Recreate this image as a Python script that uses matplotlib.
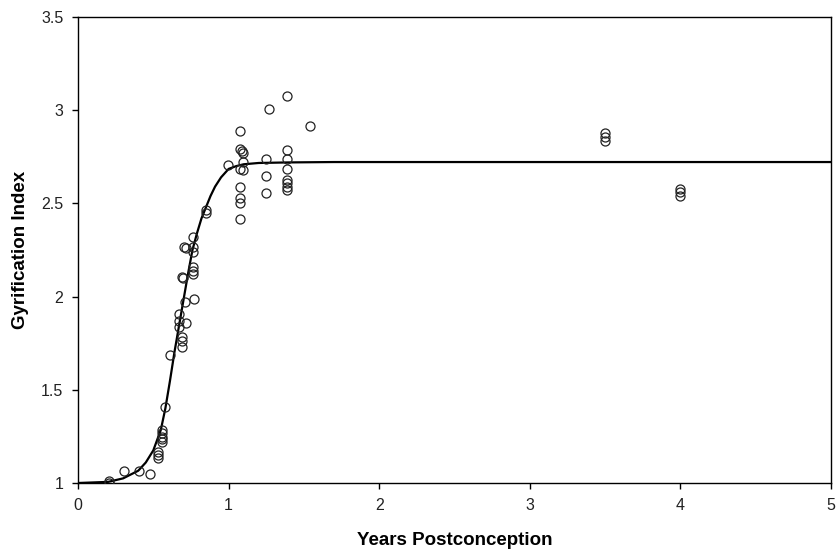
import matplotlib
matplotlib.use("Agg")
import matplotlib.pyplot as plt

plt.rcParams['font.family'] = ['Liberation Sans', 'DejaVu Sans']

age = [0.208, 0.208, 0.305, 0.403, 0.478,
       0.533, 0.533, 0.533,
       0.56, 0.56, 0.56, 0.56, 0.56,
       0.578, 0.611,
       0.671, 0.671, 0.671,
       0.693, 0.693, 0.693,
       0.715, 0.71, 0.77,
       0.69, 0.695,
       0.766, 0.766, 0.766,
       0.705, 0.715,
       0.766, 0.766, 0.766,
       0.849, 0.849,
       0.998,
       1.076, 1.076, 1.076, 1.076, 1.076, 1.076, 1.076,
       1.087, 1.098, 1.098, 1.093,
       1.248, 1.248, 1.248,
       1.268,
       1.386, 1.386, 1.386, 1.386, 1.386, 1.386, 1.386, 1.386,
       1.541,
       3.5, 3.5, 3.5,
       4.0, 4.0, 4.0]
gi = [1.0, 1.01, 1.066, 1.066, 1.047,
      1.168, 1.150, 1.132,
      1.284, 1.266, 1.248, 1.234, 1.218,
      1.41, 1.685,
      1.835, 1.87, 1.907,
      1.73, 1.76, 1.785,
      1.857, 1.97, 1.985,
      2.107, 2.098,
      2.16, 2.14, 2.12,
      2.268, 2.262,
      2.32, 2.268, 2.24,
      2.465, 2.447,
      2.706,
      2.888, 2.79, 2.59, 2.528, 2.5, 2.414, 2.683,
      2.78, 2.768, 2.68, 2.724,
      2.738, 2.647, 2.557,
      3.006,
      3.078, 2.786, 2.738, 2.685, 2.625, 2.608, 2.59, 2.572,
      2.918,
      2.876, 2.855, 2.833,
      2.58, 2.56, 2.54]

# fitted sigmoid
fit_x = [0, 0.2, 0.3, 0.4, 0.45, 0.5, 0.55, 0.58, 0.61, 0.64, 0.67, 0.70,
         0.73, 0.76, 0.79, 0.82, 0.85, 0.88, 0.91, 0.95, 1.0, 1.05, 1.1,
         1.2, 1.4, 1.7, 5.0]
fit_y = [1.0, 1.006, 1.025, 1.066, 1.11, 1.175, 1.285, 1.40, 1.545, 1.70,
         1.84, 1.98, 2.12, 2.25, 2.34, 2.42, 2.48, 2.54, 2.59, 2.64, 2.685,
         2.70, 2.71, 2.717, 2.72, 2.722, 2.722]

xticks = [0, 1, 2, 3, 4, 5]
yticks = [1, 1.5, 2, 2.5, 3, 3.5]
ytick_labels = ["1", "1.5", "2", "2.5", "3", "3.5"]

fig = plt.figure(figsize=(8.37, 5.51), dpi=100)
ax = fig.add_axes([0.0932, 0.1234, 0.8996, 0.8457])

ax.plot(fit_x, fit_y, color="black", lw=1.6, zorder=2)
ax.plot(age, gi, linestyle="none", marker="o", markersize=6.5,
        markerfacecolor="none", markeredgecolor="#222222",
        markeredgewidth=0.9, zorder=3)

ax.set_xlim(0, 5)
ax.set_ylim(1, 3.5)
ax.set_xticks(xticks)
ax.set_xticklabels([str(t) for t in xticks])
ax.set_yticks(yticks)
ax.set_yticklabels(ytick_labels)
ax.tick_params(direction="out", length=4, width=1, pad=6.5,
               labelsize=11.5, labelcolor="#222222")
for s in ax.spines.values():
    s.set_linewidth(1.0)
    s.set_color("black")

ax.set_xlabel("Years Postconception", fontsize=13.5, fontweight="bold")
ax.set_ylabel("Gyrification Index", fontsize=13.5, fontweight="bold")
ax.xaxis.set_label_coords(0.5, -0.105)
ax.yaxis.set_label_coords(-0.065, 0.5)

fig.savefig("out.png", dpi=100)
